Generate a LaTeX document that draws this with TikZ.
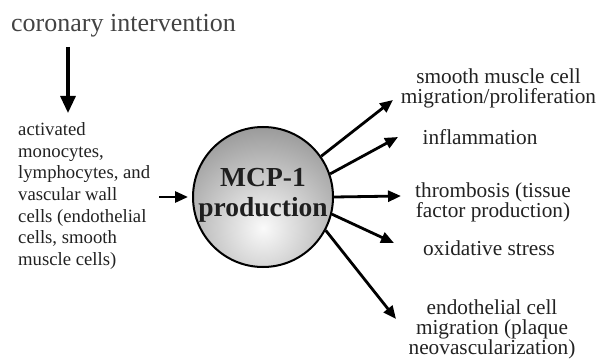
\documentclass[tikz,border=0pt]{standalone}
\usepackage{fontspec}
\setmainfont{Liberation Serif}
\usetikzlibrary{arrows.meta}
\definecolor{txt}{HTML}{222222}
\begin{document}
\begin{tikzpicture}[x=1pt,y=-1pt,
  arr/.style={line width=2.8pt, -{Triangle[length=13pt,width=11pt]}},
  bigarr/.style={line width=3.2pt, -{Triangle[length=17pt,width=15pt]}},
  rt/.style={font=\fontsize{21.3}{20}\selectfont, text=txt, inner sep=0pt, align=center},
  lt/.style={font=\fontsize{18.7}{21.7}\selectfont, text=txt, inner sep=0pt, align=left},
  tt/.style={font=\fontsize{26}{26}\selectfont, text=txt!85, inner sep=0pt},
  ct/.style={font=\fontsize{27.5}{30}\selectfont\bfseries, text=black!88, inner sep=0pt, align=center}]
\useasboundingbox[fill=white] (0,0) rectangle (601,358);

% title
\node[tt, anchor=base west] (title) at (11,32) {coronary intervention};
\coordinate (da) at (68,47);
\coordinate (db) at (68,113);
\draw[bigarr] (da) -- (db);

% left block
\node[lt, anchor=north west] (cells) at (18,122.2) {activated\\monocytes,\\lymphocytes, and\\vascular wall\\cells (endothelial\\cells, smooth\\muscle cells)};

% circle
\begin{scope}
  \clip (263,197) circle (70);
  \shade[inner color=gray!4, outer color=gray!78] (263,228) circle (100);
\end{scope}
\node[circle, draw, line width=2pt, minimum size=140pt, inner sep=0pt] (mcp) at (263,197) {};
\node[ct] (mcplabel) at (263,195) {MCP-1\\production};

\coordinate (la) at (159,197);
\draw[arr, shorten >=4pt] (la) -- (mcp.west);

% right texts
\node[rt, anchor=north] (smc) at (498.5,68.5) {smooth muscle cell\\migration/proliferation};
\node[rt, anchor=base] (infl) at (480,144) {inflammation};
\node[rt, anchor=north] (thr) at (493,182.2) {thrombosis (tissue\\factor production)};
\node[rt, anchor=base] (oxi) at (489,255) {oxidative stress};
\node[rt, anchor=north] (endo) at (492,299.5) {endothelial cell\\migration (plaque\\neovascularization)};

% arrow ends
\coordinate (e1) at (393,100);
\coordinate (e2) at (398,137);
\coordinate (e3) at (401,196);
\coordinate (e4) at (394,243);
\coordinate (e5) at (396,319);
\draw[arr] (mcp.35) -- (e1);
\draw[arr] (mcp.19) -- (e2);
\draw[arr] (mcp.0) -- (e3);
\draw[arr] (mcp.-14) -- (e4);
\draw[arr] (mcp.-28) -- (e5);
\end{tikzpicture}
\end{document}
